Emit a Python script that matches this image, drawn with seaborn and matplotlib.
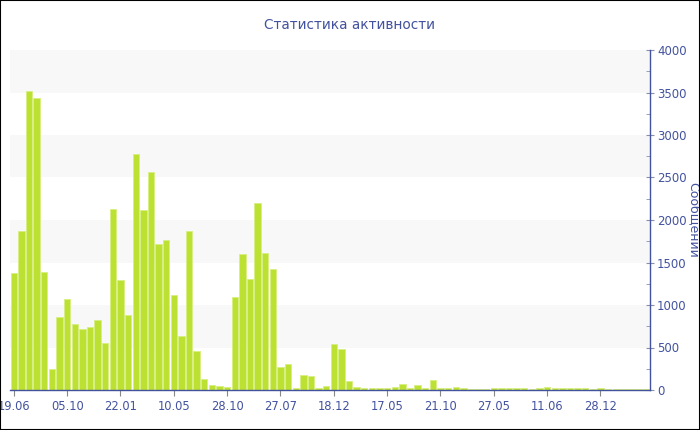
import matplotlib
matplotlib.use("Agg")
import matplotlib.pyplot as plt
import seaborn as sns
import pandas as pd
import numpy as np
from matplotlib.patches import Rectangle

title = "Статистика активности"
ylabel = "Сообщений"

values = [1373, 1871, 3522, 3431, 1392, 251, 859, 1067, 776, 714,
          745, 824, 549, 2133, 1290, 886, 2780, 2122, 2561, 1718,
          1761, 1114, 631, 1871, 463, 125, 55, 43, 31, 1090,
          1600, 1306, 2204, 1616, 1427, 275, 302, 27, 176, 169,
          20, 43, 545, 486, 106, 35, 27, 20, 20, 20,
          35, 71, 24, 55, 20, 118, 27, 24, 35, 24,
          14, 16, 14, 24, 24, 24, 24, 24, 14, 24,
          35, 24, 24, 20, 20, 24, 14, 20, 14, 14,
          14, 14, 14, 14]
tick_labels = ["19.06", "05.10", "22.01", "10.05", "28.10", "27.07",
               "18.12", "17.05", "21.10", "27.05", "11.06", "28.12"]
tick_step = 7
y_ticks = [0, 500, 1000, 1500, 2000, 2500, 3000, 3500, 4000]

blue = "#42529e"
bar_color = "#bde132"

sns.set_style("white")
plt.rcParams['font.family'] = ['DejaVu Sans']

df = pd.DataFrame({"idx": list(range(len(values))), "val": values})

fig = plt.figure(figsize=(7, 4.3), dpi=100)
ax = fig.add_axes([10/700, 40/430, 640/700, 340/430])

# alternating bands
for lo in range(500, 4000, 1000):
    ax.axhspan(lo, lo + 500, color="#f8f8f8", zorder=0, lw=0)

sns.barplot(data=df, x="idx", y="val", color=bar_color, saturation=1,
            width=0.84, edgecolor="#d6ef80", linewidth=0.6, ax=ax, zorder=2)

ax.set_xlim(-0.5, len(values) - 0.5)
ax.set_ylim(0, 4000)

ax.set_xticks(list(range(0, len(values), tick_step))[:len(tick_labels)])
ax.set_xticklabels(tick_labels)
ax.set_xlabel("")

ax.yaxis.tick_right()
ax.yaxis.set_label_position("right")
ax.set_yticks(y_ticks)
ax.set_yticklabels([str(v) for v in y_ticks])
ax.set_yticks(np.arange(250, 4000, 500), minor=True)
ax.set_ylabel(ylabel, rotation=-90, color=blue, fontsize=9, va="center", ha="center")
ax.yaxis.set_label_coords((693 - 10) / 640, 0.5)

for s in ["top", "left"]:
    ax.spines[s].set_visible(False)
ax.spines["right"].set_color(blue)
ax.spines["bottom"].set_color(blue)
ax.spines["right"].set_linewidth(1)
ax.spines["bottom"].set_linewidth(1)

ax.tick_params(axis="x", colors="#888888", labelcolor=blue, labelsize=8.3,
               length=4, direction="out", pad=3, bottom=True)
ax.tick_params(axis="y", which="major", colors="#8890b0", labelcolor=blue,
               labelsize=8.5, length=6, direction="inout", pad=2, right=True, left=False)
ax.tick_params(axis="y", which="minor", colors="#8890b0", length=3,
               direction="in", right=True, left=False)
ax.grid(False)

fig.text(0.5, 1 - 25/430, title, ha="center", va="center", color=blue, fontsize=9.8)

fig.patches.append(Rectangle((0, 0), 1, 1, transform=fig.transFigure, fill=False,
                             edgecolor="black", linewidth=1.5, zorder=10))

fig.savefig("out.png", dpi=100)
